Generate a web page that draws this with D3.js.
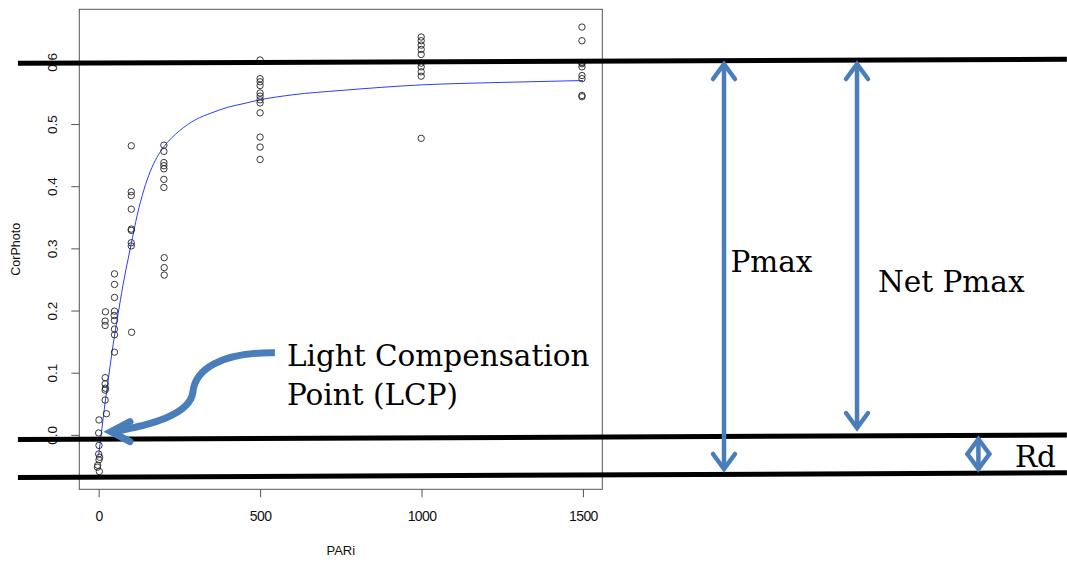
<!DOCTYPE html>
<html>
<head>
<meta charset="utf-8">
<script src="https://cdn.jsdelivr.net/npm/d3@7/dist/d3.min.js"></script>
<style>
  html, body { margin: 0; padding: 0; background: #fff; }
  svg { display: block; }
</style>
</head>
<body>
<svg id="chart" width="1067" height="566"></svg>
<script>
// ---------------- data ----------------
const parValues = [
  2, -3, 1, 3, 0, 1, 0, 1, -4,
  20, 20, 21, 20, 20, 24, 21, 20, 20,
  49, 49, 49, 49, 48, 49, 49, 49, 49,
  101, 101, 101, 101, 101, 101, 101, 101, 102,
  202, 202, 202, 202, 202, 202, 202, 203, 203, 203,
  500, 500, 500, 500, 500, 500, 500, 500, 500, 500, 500, 500,
  999, 999, 999, 999, 999, 999, 999, 999, 999, 999,
  1497, 1497, 1497, 1497, 1497, 1497, 1497, 1497, 1497
];
const corPhotoValues = [
  -0.059, -0.049, -0.040, -0.036, -0.031, -0.017, 0.003, 0.024, -0.052,
  0.092, 0.082, 0.075, 0.072, 0.056, 0.034, 0.198, 0.183, 0.176,
  0.259, 0.242, 0.221, 0.199, 0.192, 0.184, 0.170, 0.161, 0.133,
  0.465, 0.391, 0.385, 0.363, 0.331, 0.329, 0.309, 0.304, 0.165,
  0.466, 0.456, 0.438, 0.433, 0.428, 0.411, 0.398, 0.285, 0.269, 0.257,
  0.603, 0.573, 0.568, 0.562, 0.550, 0.545, 0.539, 0.534, 0.518, 0.479, 0.463, 0.443,
  0.640, 0.634, 0.627, 0.620, 0.612, 0.598, 0.592, 0.584, 0.577, 0.477,
  0.656, 0.634, 0.599, 0.597, 0.592, 0.578, 0.573, 0.546, 0.544
];
// fitted light-response curve
const fitPar = [0, 10, 20, 30, 40, 50, 60, 75, 100, 120, 140, 160, 180, 200, 250, 300, 350, 400, 450, 500, 600, 750, 1000, 1250, 1500];
const fitPhoto = [-0.033, 0.010, 0.052, 0.090, 0.128, 0.163, 0.194, 0.240, 0.305, 0.355, 0.394, 0.424, 0.446, 0.462, 0.489, 0.507, 0.518, 0.527, 0.533, 0.539, 0.547, 0.554, 0.563, 0.567, 0.570];

const xTicks = [0, 500, 1000, 1500];
const yTicks = [0.0, 0.1, 0.2, 0.3, 0.4, 0.5, 0.6];
const yTickLabels = ["0.0", "0.1", "0.2", "0.3", "0.4", "0.5", "0.6"];

// annotation overlay (in data units: [PARi, CorPhoto])
const levelLines = [
  [[-250, 0.5977], [2999, 0.6042]],
  [[-250, -0.0075], [2999, -0.0002]],
  [[-250, -0.0686], [2999, -0.0611]]
];
const vArrows = [
  { p: 1937, v0: 0.5982, v1: -0.0565 },
  { p: 2349, v0: 0.5982, v1: 0.0094 },
  { p: 2725, v0: -0.0051, v1: -0.0565 }
];
const labels = [
  { text: "Pmax", p: 1957, v: 0.2619 },
  { text: "Net Pmax", p: 2414, v: 0.2297 },
  { text: "Rd", p: 2838, v: -0.0517 },
  { text: "Light Compensation", p: 583, v: 0.1108 },
  { text: "Point (LCP)", p: 583, v: 0.0480 }
];
const lcpPath = [[546, 0.1322], [376, 0.1333], [298, 0.1043], [292, 0.0689], [283, 0.0320], [159, 0.0159], [48, 0.0054]];
const lcpTip = [35, 0.0051];

// ---------------- layout ----------------
const box = { left: 79.3, right: 602.3, top: 9.3, bottom: 489.3 };
const x = d3.scaleLinear().domain([-60, 1560]).range([box.left, box.right]);
const y = d3.scaleLinear().domain([-0.0876, 0.6846]).range([box.bottom, box.top]);

const svg = d3.select("#chart");
const blue = "#4a7ebb";
const sans = "'Liberation Sans', Arial, sans-serif";

// plot box
svg.append("rect")
  .attr("x", box.left).attr("y", box.top)
  .attr("width", box.right - box.left).attr("height", box.bottom - box.top)
  .attr("fill", "none").attr("stroke", "#555").attr("stroke-width", 1);

// x axis
const xAxis = d3.axisBottom(x).tickValues(xTicks).tickSize(8).tickPadding(14).tickFormat(d3.format("d"));
const gx = svg.append("g").attr("transform", `translate(0,${box.bottom})`).call(xAxis);
gx.select(".domain").remove();
gx.selectAll("line").attr("stroke", "#555");
gx.selectAll("text").attr("font-family", sans)
  .attr("font-size", 14).attr("fill", "#111").attr("letter-spacing", "-0.6px");

// y axis (R-style rotated tick labels)
const yAxis = d3.axisLeft(y).tickValues(yTicks).tickSize(8).tickFormat((d, i) => yTickLabels[i]);
const gy = svg.append("g").attr("transform", `translate(${box.left},0)`).call(yAxis);
gy.select(".domain").remove();
gy.selectAll("line").attr("stroke", "#555");
gy.selectAll("text")
  .attr("font-family", sans)
  .attr("font-size", 13.5).attr("fill", "#111")
  .attr("text-anchor", "middle")
  .attr("x", null).attr("dy", null)
  .attr("transform", "translate(-22,0) rotate(-90)")
  .attr("y", 0);

// axis titles
svg.append("text")
  .attr("x", (box.left + box.right) / 2).attr("y", 555)
  .attr("text-anchor", "middle")
  .attr("font-family", sans).attr("font-size", 13)
  .attr("fill", "#111").text("PARi");
svg.append("text")
  .attr("transform", `translate(20,${(box.top + box.bottom) / 2}) rotate(-90)`)
  .attr("text-anchor", "middle")
  .attr("font-family", sans).attr("font-size", 12.5)
  .attr("fill", "#111").text("CorPhoto");

// fitted curve
const fitData = fitPar.map((p, i) => [p, fitPhoto[i]]);
svg.append("path")
  .datum(fitData)
  .attr("fill", "none").attr("stroke", "#2a3cff").attr("stroke-width", 1)
  .attr("d", d3.line().x(d => x(d[0])).y(d => y(d[1])).curve(d3.curveMonotoneX));

// points
const pts = parValues.map((p, i) => [p, corPhotoValues[i]]);
svg.append("g").selectAll("circle").data(pts).join("circle")
  .attr("cx", d => x(d[0])).attr("cy", d => y(d[1])).attr("r", 3.2)
  .attr("fill", "none").attr("stroke", "#222").attr("stroke-width", 0.9);

// ---------------- annotation overlay ----------------
const ov = svg.append("g");
levelLines.forEach(l => {
  ov.append("line")
    .attr("x1", x(l[0][0])).attr("y1", y(l[0][1]))
    .attr("x2", x(l[1][0])).attr("y2", y(l[1][1]))
    .attr("stroke", "#000").attr("stroke-width", 5);
});

const headLen = 16, headHalf = 11;
vArrows.forEach(a => {
  const ax = x(a.p), ya = y(a.v0), yb = y(a.v1);
  ov.append("line").attr("x1", ax).attr("x2", ax).attr("y1", ya + 2).attr("y2", yb - 2)
    .attr("stroke", blue).attr("stroke-width", 4.5);
  ov.append("path")
    .attr("d", `M${ax - headHalf},${ya + headLen} L${ax},${ya + 1} L${ax + headHalf},${ya + headLen}`)
    .attr("fill", "none").attr("stroke", blue).attr("stroke-width", 4.5)
    .attr("stroke-linecap", "round").attr("stroke-linejoin", "miter");
  ov.append("path")
    .attr("d", `M${ax - headHalf},${yb - headLen} L${ax},${yb - 1} L${ax + headHalf},${yb - headLen}`)
    .attr("fill", "none").attr("stroke", blue).attr("stroke-width", 4.5)
    .attr("stroke-linecap", "round").attr("stroke-linejoin", "miter");
});

// LCP curved arrow
const P = d => [x(d[0]), y(d[1])];
const lp = lcpPath.map(P);
const tip = P(lcpTip);
ov.append("path")
  .attr("d", `M${lp[0]} C${lp[1]} ${lp[2]} ${lp[3]} C${lp[4]} ${lp[5]} ${lp[6]}`)
  .attr("fill", "none").attr("stroke", blue).attr("stroke-width", 7).attr("stroke-linecap", "butt");
ov.append("path")
  .attr("d", `M${tip[0] + 20},${tip[1] - 10} L${tip[0] + 1},${tip[1]} L${tip[0] + 20},${tip[1] + 10}`)
  .attr("fill", "none").attr("stroke", blue).attr("stroke-width", 7)
  .attr("stroke-linecap", "round").attr("stroke-linejoin", "miter");

labels.forEach(t => {
  ov.append("text")
    .attr("x", x(t.p)).attr("y", y(t.v))
    .attr("font-family", "'DejaVu Serif', 'Liberation Serif', serif")
    .attr("font-size", 29.5).attr("fill", "#000")
    .text(t.text);
});
</script>
</body>
</html>
